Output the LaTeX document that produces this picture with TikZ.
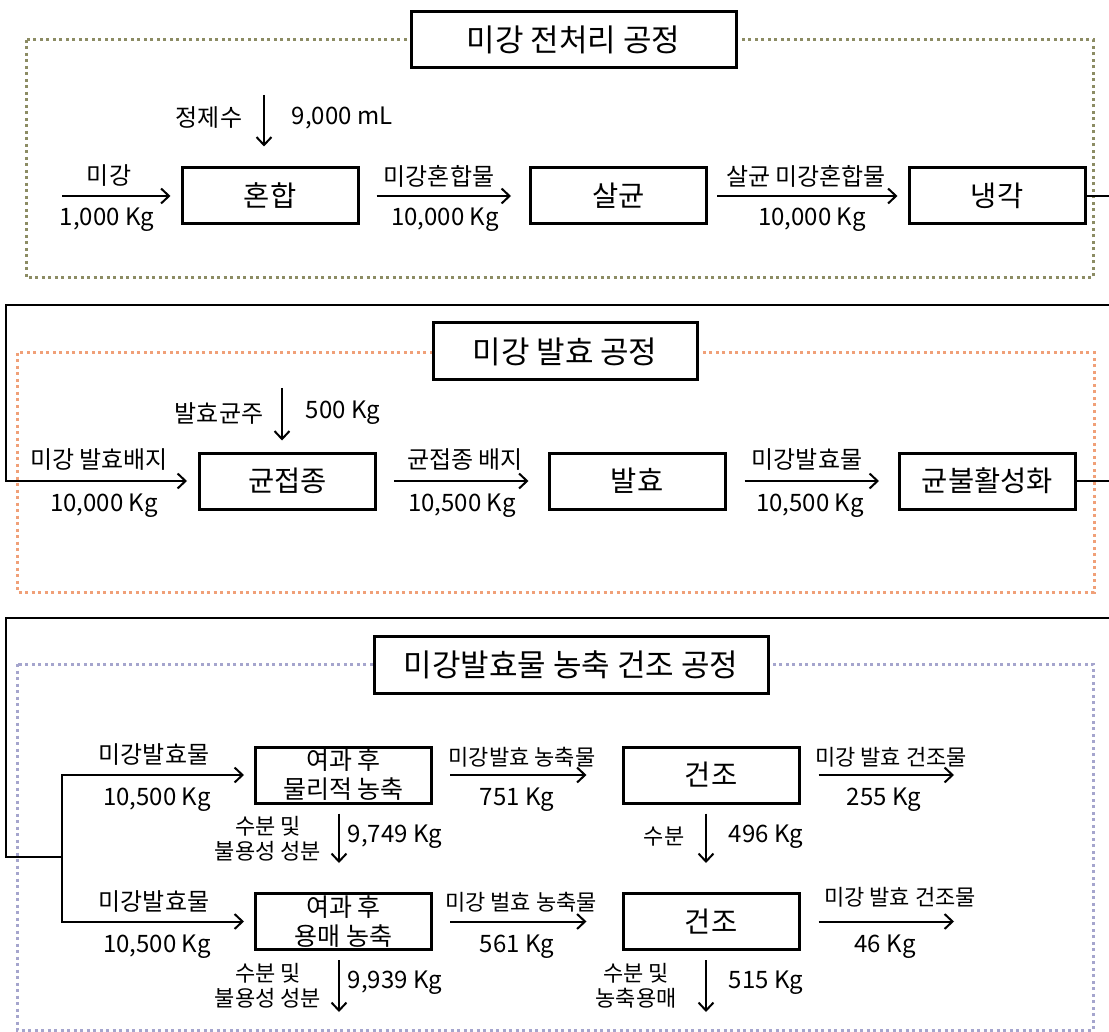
\documentclass[tikz,border=0pt]{standalone}
\usepackage{fontspec}
\newfontfamily\kr{Noto Sans CJK KR}
\usetikzlibrary{arrows.meta}
\begin{document}
\begin{tikzpicture}[x=1pt,y=-1pt,
  proc/.style={draw, line width=3pt, minimum width=176pt, minimum height=56pt, inner sep=0pt, font=\kr\fontsize{28.5}{31}\selectfont},
  sproc/.style={proc, align=center, font=\kr\fontsize{25}{29}\selectfont},
  ttl/.style={draw, line width=3pt, fill=white, inner sep=0pt, font=\kr\fontsize{31}{34}\selectfont},
  lbl/.style={inner sep=0pt, font=\kr\fontsize{24}{27}\selectfont},
  slbl/.style={inner sep=0pt, align=center, font=\kr\fontsize{22}{25}\selectfont},
  arr/.style={line width=2pt, -{Straight Barb[length=8pt,width=15pt]}},
  wire/.style={line width=2pt},
  dotbox/.style={line width=3pt, dash pattern=on 3pt off 3.5pt}
]
\definecolor{olivedot}{RGB}{140,140,100}
\definecolor{orangedot}{RGB}{240,160,120}
\definecolor{bluedot}{RGB}{165,165,205}
\clip (0,0) rectangle (1109,1032);
\fill[white] (0,0) rectangle (1109,1032);

% ---------------- Section 1 ----------------
\draw[dotbox, olivedot] (26,40) rectangle (1093,278);
\node[ttl, minimum width=325pt, minimum height=56pt] (t1) at (573.5,40) {미강 전처리 공정};

\node[proc] (mix) at (270,196) {혼합};
\node[proc] (ster) at (618.5,196) {살균};
\node[proc] (cool) at (997,196) {냉각};

\coordinate (in1) at (62,196);
\coordinate (w1) at (264,95);
\draw[arr, shorten >=10pt] (in1) -- (mix.west);
\draw[arr, shorten >=20pt] (w1) -- (w1 |- mix.north);
\draw[arr, shorten <=17pt, shorten >=18pt] (mix.east) -- (ster.west);
\draw[arr, shorten <=9pt, shorten >=10pt] (ster.east) -- (cool.west);

\node[lbl] (l1a) at (209,118) {정제수};
\node[lbl] (l1b) at (342,118) {9,000 mL};
\node[lbl] (l1c) at (109,176) {미강};
\node[lbl] (l1d) at (107,220) {1,000 Kg};
\node[lbl] (l1e) at (439,176) {미강혼합물};
\node[lbl] (l1f) at (445,220) {10,000 Kg};
\node[lbl] (l1g) at (806,176) {살균 미강혼합물};
\node[lbl] (l1h) at (812,220) {10,000 Kg};

% ---------------- Section 2 ----------------
\draw[dotbox, orangedot] (17,353) rectangle (1094,592);
\node[ttl, minimum width=264pt, minimum height=57pt] (t2) at (565,351.5) {미강 발효 공정};

\node[proc] (gj) at (287.5,481) {균접종};
\node[proc] (fer) at (637,481) {발효};
\node[proc] (inact) at (987.5,481) {균불활성화};

\draw[arr, shorten >=11pt] (cool.east) -- (1125,196) -- (1125,305) -- (6,305) -- (6,481) -- (gj.west);
\coordinate (w2) at (282,388);
\draw[arr, shorten >=11pt] (w2) -- (w2 |- gj.north);
\draw[arr, shorten <=17pt, shorten >=19pt] (gj.east) -- (fer.west);
\draw[arr, shorten <=18pt, shorten >=19pt] (fer.east) -- (inact.west);

\node[lbl] (l2a) at (219,413) {발효균주};
\node[lbl] (l2b) at (343,413) {500 Kg};
\node[lbl] (l2c) at (99,460) {미강 발효배지};
\node[lbl] (l2d) at (104,506) {10,000 Kg};
\node[lbl] (l2e) at (465,460) {균접종 배지};
\node[lbl] (l2f) at (462,506) {10,500 Kg};
\node[lbl] (l2g) at (807,460) {미강발효물};
\node[lbl] (l2h) at (810,506) {10,500 Kg};

% ---------------- Section 3 ----------------
\draw[dotbox, bluedot] (17,664) rectangle (1093,1030);
\node[ttl, minimum width=394pt, minimum height=57pt] (t3) at (571,664.5) {미강발효물 농축 건조 공정};

\node[sproc] (b1) at (343.5,775) {여과 후\\물리적 농축};
\node[sproc] (b2) at (343.5,921.5) {여과 후\\용매 농축};
\node[proc] (dry1) at (711,775) {건조};
\node[proc] (dry2) at (711,921.5) {건조};

\coordinate (j) at (62,857);
\draw[wire] (inact.east) -- (1125,481) -- (1125,618) -- (6,618) -- (6,857) -- (j);
\draw[arr, shorten >=10pt] (j) |- (b1.west);
\draw[arr, shorten >=10pt] (j) |- (b2.west);

\coordinate (d1) at (339,863);
\coordinate (d2) at (339,1012);
\coordinate (d3) at (706,863);
\coordinate (d4) at (706,1012);
\coordinate (o1) at (954,775);
\coordinate (o2) at (954,921.5);
\draw[arr, shorten <=9pt] (d1 |- b1.south) -- (d1);
\draw[arr, shorten <=9pt] (d2 |- b2.south) -- (d2);
\draw[arr, shorten <=9pt] (d3 |- dry1.south) -- (d3);
\draw[arr, shorten <=9pt] (d4 |- dry2.south) -- (d4);
\draw[arr, shorten <=17pt, shorten >=35pt] (b1.east) -- (dry1.west);
\draw[arr, shorten <=17pt, shorten >=35pt] (b2.east) -- (dry2.west);
\draw[arr, shorten <=18pt] (dry1.east) -- (o1);
\draw[arr, shorten <=18pt] (dry2.east) -- (o2);

\node[lbl] (l3a) at (154,755) {미강발효물};
\node[lbl] (l3b) at (157,800) {10,500 Kg};
\node[slbl] (l3c) at (268,838.5) {수분 및\\불용성 성분};
\node[lbl] (l3d) at (395,837) {9,749 Kg};
\node[slbl] (l3e) at (522,757) {미강발효 농축물};
\node[lbl] (l3f) at (517,800) {751 Kg};
\node[slbl] (l3g) at (891,757) {미강 발효 건조물};
\node[lbl] (l3h) at (884,800) {255 Kg};
\node[slbl] (l3i) at (664,837) {수분};
\node[lbl] (l3j) at (766,837) {496 Kg};

\node[lbl] (l4a) at (154,902) {미강발효물};
\node[lbl] (l4b) at (157,947) {10,500 Kg};
\node[slbl] (l4c) at (268,985.5) {수분 및\\불용성 성분};
\node[lbl] (l4d) at (395,983) {9,939 Kg};
\node[slbl] (l4e) at (521,902) {미강 벌효 농축물};
\node[lbl] (l4f) at (517,947) {561 Kg};
\node[slbl] (l4g) at (900,897) {미강 발효 건조물};
\node[lbl] (l4h) at (885,947) {46 Kg};
\node[slbl] (l4i) at (636,985.5) {수분 및\\농축용매};
\node[lbl] (l4j) at (766,983) {515 Kg};
\end{tikzpicture}
\end{document}
